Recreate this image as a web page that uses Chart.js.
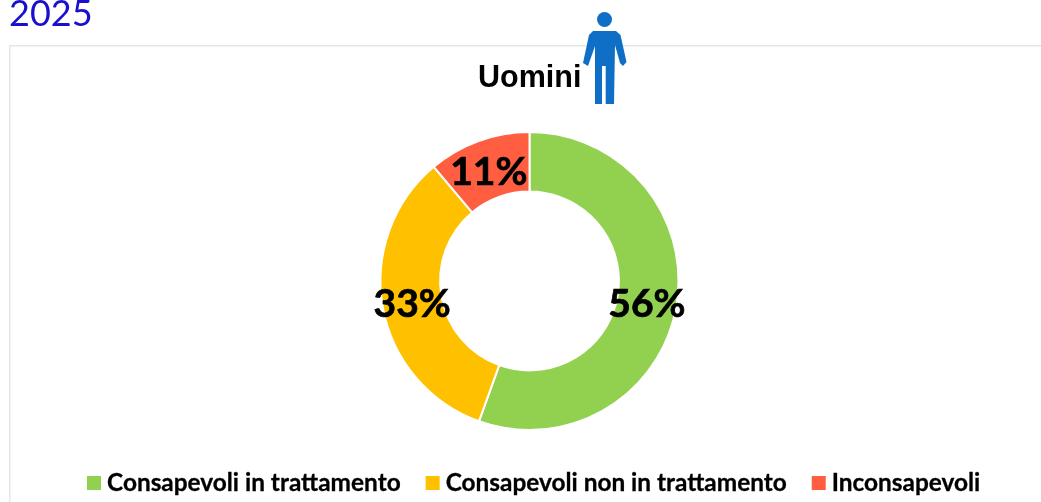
<!DOCTYPE html>
<html><head><meta charset="utf-8">
<style>html,body{margin:0;padding:0;background:#fff;overflow:hidden}#w{position:relative;width:1041px;height:502px}</style>
<script src="https://cdn.jsdelivr.net/npm/chart.js@4"></script>
</head><body><div id="w"><canvas id="c" width="1041" height="502"></canvas></div>
<script>
const categories = ["Consapevoli in trattamento","Consapevoli non in trattamento","Inconsapevoli"];
const values = [55.5,33.4,11.1];
const colors = ["#92D050","#FFC000","#FF5F40"];
const heading = "2025";
const subtitle = "Uomini";

const decor = {
  id:"decor",
  beforeDraw(chart){
    const x = chart.ctx;
    x.save();
    x.fillStyle="#e6e6e6";
    x.fillRect(9,45,1032,1.5);
    x.fillRect(9,45,1.5,457);
    x.fillStyle="#1A0FCF";
    x.font="36px Lato";
    x.textAlign="left"; x.textBaseline="alphabetic";
    x.fillText(heading,9,26);
    x.restore();
  },
  afterDraw(chart){
    const x = chart.ctx;
    x.save();
    x.fillStyle="#000";
    x.font="bold 30.5px 'Liberation Sans'";
    x.textAlign="left"; x.textBaseline="alphabetic";
    x.fillText(subtitle,478,87);
    x.fillStyle="#0F6FC6";
    x.beginPath(); x.arc(604.5,19.5,7.5,0,Math.PI*2); x.fill();
    const p=[[593,31],[616,31],[620.5,35],[626.5,62],[623,66],[620,63],[615,45],[614,104],[605.7,104],[605.7,66],[602,66],[602,104],[595,104],[595,46],[588,66],[583,63],[589,35]];
    x.beginPath(); p.forEach((q,i)=>i?x.lineTo(q[0],q[1]):x.moveTo(q[0],q[1])); x.closePath(); x.fill();
    x.fillStyle="#000";
    x.strokeStyle="#000";
    x.font="bold 39px Lato";
    x.textAlign="center"; x.textBaseline="middle";
    x.lineWidth=0.7;
    chart.getDatasetMeta(0).data.forEach((a,i)=>{
      const t=a.tooltipPosition();
      const s=Math.round(values[i])+"%";
      x.fillText(s,t.x,t.y+3);
      x.strokeText(s,t.x,t.y+3);
    });
    // legend row
    x.font="bold 24.4px Lato";
    x.textAlign="left"; x.textBaseline="alphabetic";
    x.lineWidth=0.3;
    let lx=87;
    categories.forEach((c,i)=>{
      x.fillStyle=colors[i];
      x.fillRect(lx,476,14,14);
      x.fillStyle="#000";
      x.fillText(c,lx+20,491);
      x.strokeText(c,lx+20,491);
      lx+=20+x.measureText(c).width+25;
    });
    x.restore();
  }
};

new Chart(document.getElementById("c"),{
  type:"doughnut",
  data:{labels:categories,datasets:[{data:values,backgroundColor:colors,borderColor:"#fff",borderWidth:2}]},
  options:{
    responsive:false,animation:false,cutout:"60%",
    layout:{padding:{top:131,left:18,right:0,bottom:71}},
    plugins:{tooltip:{enabled:false},legend:{display:false}}
  },
  plugins:[decor]
});
</script></body></html>
